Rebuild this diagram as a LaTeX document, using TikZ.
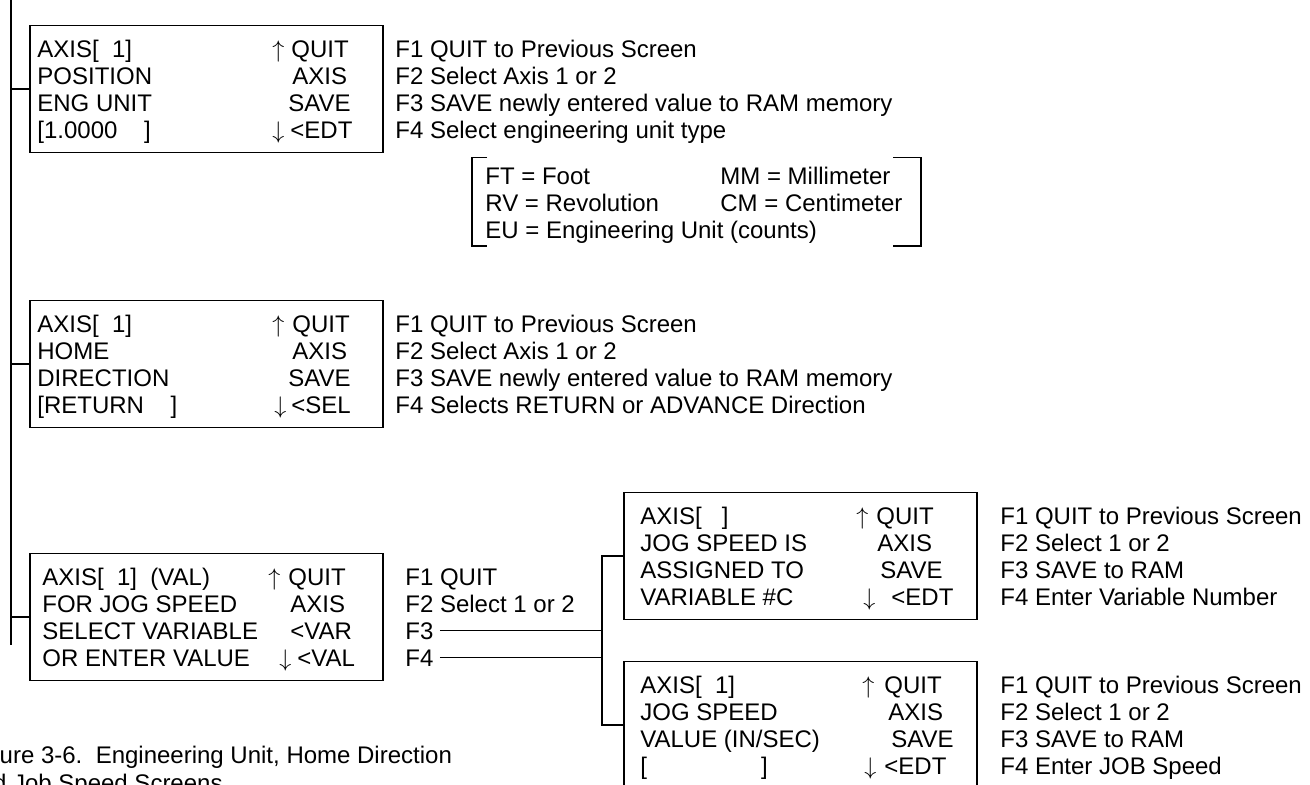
\documentclass[tikz,border=0pt]{standalone}
\usepackage{fontspec}
\setmainfont{Liberation Sans}
\usepackage{tikz}
\usetikzlibrary{calc}

\tikzset{
  scr/.style={draw, line width=0.7pt, minimum width=176.5pt, minimum height=63.5pt, inner sep=0pt},
  ln/.style={anchor=base west, inner sep=0pt, font=\fontsize{12pt}{13.5pt}\selectfont},
  wire/.style={line width=0.6pt},
}

\begin{document}
\begin{tikzpicture}[x=0.5pt, y=-0.5pt]
\useasboundingbox (0,0) rectangle (1310,784);
\clip (0,0) rectangle (1310,784);
% Menu trunk
\coordinate (trunktop) at (11,0);
\coordinate (trunkend) at (11,645);
\draw[wire] (trunktop) -- (trunkend);
% Engineering unit screen
\node[scr] (unitscr) at (206.5,89) {};
\draw[wire] (unitscr.west) -- (unitscr.west -| trunktop);
\node[ln] (unitl1) at (37,57) {AXIS[\ \ 1]};
\node[ln] (unitl2) at (37,84) {POSITION};
\node[ln] (unitl3) at (37,111) {ENG UNIT};
\node[ln] (unitl4) at (37,138) {[1.0000\ \ \ \ ]};
\node[ln] (unitup) at (272,57) {$\uparrow$};
\node[ln] (unitr1) at (291,57) {QUIT};
\node[ln] (unitr2) at (292,84) {AXIS};
\node[ln] (unitr3) at (288,111) {SAVE};
\node[ln] (unitdn) at (272,138) {$\downarrow$};
\node[ln] (unitr4) at (290,138) {<EDT};
\node[ln] (unitf1) at (395,57) {F1 QUIT to Previous Screen};
\node[ln] (unitf2) at (395,84) {F2 Select Axis 1 or 2};
\node[ln] (unitf3) at (395,111) {F3 SAVE newly entered value to RAM memory};
\node[ln] (unitf4) at (395,138) {F4 Select engineering unit type};
% Unit type legend
\draw[wire] (487,157.5) -- (472,157.5) -- (472,246) -- (487,246);
\draw[wire] (893,157.5) -- (921,157.5) -- (921,246) -- (893,246);
\node[ln] (ft) at (485,184.5) {FT = Foot};
\node[ln] (rv) at (485,211.5) {RV = Revolution};
\node[ln] (eu) at (485,238.5) {EU = Engineering Unit (counts)};
\node[ln] (mm) at (720,184.5) {MM = Millimeter};
\node[ln] (cm) at (720,211.5) {CM = Centimeter};
% Home direction screen
\node[scr] (homescr) at (206.5,364) {};
\draw[wire] (homescr.west) -- (homescr.west -| trunktop);
\node[ln] (homel1) at (37,332) {AXIS[\ \ 1]};
\node[ln] (homel2) at (37,359) {HOME};
\node[ln] (homel3) at (37,386) {DIRECTION};
\node[ln] (homel4) at (37,413) {[RETURN\ \ \ \ ]};
\node[ln] (homeup) at (272,332) {$\uparrow$};
\node[ln] (homer1) at (292,332) {QUIT};
\node[ln] (homer2) at (292,359) {AXIS};
\node[ln] (homer3) at (288,386) {SAVE};
\node[ln] (homedn) at (274,413) {$\downarrow$};
\node[ln] (homer4) at (291,413) {<SEL};
\node[ln] (homef1) at (395,332) {F1 QUIT to Previous Screen};
\node[ln] (homef2) at (395,359) {F2 Select Axis 1 or 2};
\node[ln] (homef3) at (395,386) {F3 SAVE newly entered value to RAM memory};
\node[ln] (homef4) at (395,413) {F4 Selects RETURN or ADVANCE Direction};
% Jog speed screen
\node[scr] (jogscr) at (206.5,617) {};
\draw[wire] (jogscr.west) -- (jogscr.west -| trunktop);
\node[ln] (jogl1) at (42,585) {AXIS[\ \ 1]\ \ (VAL)};
\node[ln] (jogl2) at (42,612) {FOR JOG SPEED};
\node[ln] (jogl3) at (42,639) {SELECT VARIABLE};
\node[ln] (jogl4) at (42,666) {OR ENTER VALUE};
\node[ln] (jogup) at (268,585) {$\uparrow$};
\node[ln] (jogr1) at (288,585) {QUIT};
\node[ln] (jogr2) at (290,612) {AXIS};
\node[ln] (jogr3) at (290,639) {<VAR};
\node[ln] (jogdn) at (279,666) {$\downarrow$};
\node[ln] (jogr4) at (297,666) {<VAL};
\node[ln] (jogf1) at (405,585) {F1 QUIT};
\node[ln] (jogf2) at (405,612) {F2 Select 1 or 2};
\node[ln] (jogf3) at (405,639) {F3};
\node[ln] (jogf4) at (405,666) {F4};
% Variable / value branch
\coordinate (fork) at (602,0);
\node[scr] (jogvarscr) at (800.5,556) {};
\node[scr] (jogvalscr) at (800.5,725) {};
\draw[wire] (jogvarscr.west) -- (jogvarscr.west -| fork) -- (jogvalscr.west -| fork) -- (jogvalscr.west);
\draw[wire, shorten <=3pt] (jogf3.east) -- (jogf3.east -| fork);
\draw[wire, shorten <=3pt] (jogf4.east) -- (jogf4.east -| fork);
% Jog speed variable screen
\node[ln] (varl1) at (640,524) {AXIS[\ \ \ ]};
\node[ln] (varl2) at (640,551) {JOG SPEED IS};
\node[ln] (varl3) at (640,578) {ASSIGNED TO};
\node[ln] (varl4) at (640,605) {VARIABLE \#C};
\node[ln] (varup) at (856,524) {$\uparrow$};
\node[ln] (varr1) at (876,524) {QUIT};
\node[ln] (varr2) at (877,551) {AXIS};
\node[ln] (varr3) at (880,578) {SAVE};
\node[ln] (vardn) at (863,605) {$\downarrow$};
\node[ln] (varr4) at (891,605) {<EDT};
\node[ln] (varf1) at (1000,524) {F1 QUIT to Previous Screen};
\node[ln] (varf2) at (1000,551) {F2 Select 1 or 2};
\node[ln] (varf3) at (1000,578) {F3 SAVE to RAM};
\node[ln] (varf4) at (1000,605) {F4 Enter Variable Number};
% Jog speed value screen
\node[ln] (vall1) at (640,693) {AXIS[\ \ 1]};
\node[ln] (vall2) at (640,720) {JOG SPEED};
\node[ln] (vall3) at (640,747) {VALUE (IN/SEC)};
\node[ln] (vall4) at (640,774) {[\hspace{57pt}]};
\node[ln] (valup) at (862,693) {$\uparrow$};
\node[ln] (valr1) at (884,693) {QUIT};
\node[ln] (valr2) at (888,720) {AXIS};
\node[ln] (valr3) at (891,747) {SAVE};
\node[ln] (valdn) at (864,774) {$\downarrow$};
\node[ln] (valr4) at (884,774) {<EDT};
\node[ln] (valf1) at (1000,693) {F1 QUIT to Previous Screen};
\node[ln] (valf2) at (1000,720) {F2 Select 1 or 2};
\node[ln] (valf3) at (1000,747) {F3 SAVE to RAM};
\node[ln] (valf4) at (1000,774) {F4 Enter JOB Speed};
% Caption
\node[ln] (capa) at (-34,763) {Figure 3-6.\ \ Engineering Unit, Home Direction};
\node[ln] (capb) at (-34,791) {and Job Speed Screens};
\end{tikzpicture}
\end{document}
